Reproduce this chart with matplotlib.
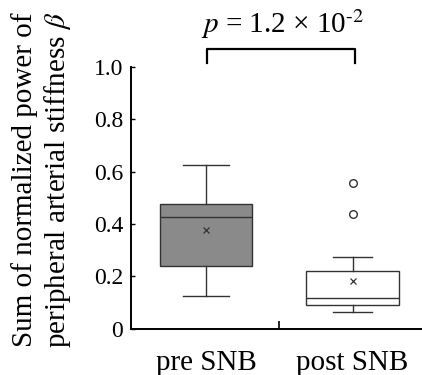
import matplotlib
matplotlib.use("Agg")
import matplotlib.pyplot as plt

# values
groups = ["pre SNB", "post SNB"]
whisker_low = [0.125, 0.063]
q1 = [0.241, 0.091]
median = [0.426, 0.116]
q3 = [0.476, 0.222]
whisker_high = [0.627, 0.274]
mean = [0.379, 0.182]
outliers = [[], [0.440, 0.557]]
p_label = r"$p$ = 1.2 × 10$^{\text{-2}}$"
y_ticks = [0, 0.2, 0.4, 0.6, 0.8, 1.0]
y_tick_labels = ["0", "0.2", "0.4", "0.6", "0.8", "1.0"]

plt.rcParams["font.family"] = ["Liberation Serif", "DejaVu Serif"]
plt.rcParams["mathtext.fontset"] = "stix"

fig = plt.figure(figsize=(4.22, 3.75), dpi=100)
ax = fig.add_axes([0.3116, 0.1235, 0.6884, 0.6973])

stats = []
for i, name in enumerate(groups):
    stats.append({
        "label": name,
        "whislo": whisker_low[i],
        "q1": q1[i],
        "med": median[i],
        "q3": q3[i],
        "whishi": whisker_high[i],
        "mean": mean[i],
        "fliers": outliers[i],
    })

line_col = "#333333"
bp = ax.bxp(
    stats,
    positions=[1, 2],
    widths=0.63,
    capwidths=[0.32, 0.27],
    showmeans=True,
    patch_artist=True,
    boxprops=dict(edgecolor=line_col, linewidth=1.0),
    medianprops=dict(color=line_col, linewidth=1.0),
    whiskerprops=dict(color=line_col, linewidth=1.0),
    capprops=dict(color=line_col, linewidth=1.0),
    meanprops=dict(marker="x", markeredgecolor=line_col, markersize=4.5,
                   markeredgewidth=0.9),
    flierprops=dict(marker="o", markerfacecolor="white",
                    markeredgecolor=line_col, markersize=5.5,
                    markeredgewidth=1.0),
)
bp["boxes"][0].set_facecolor("#8a8a8a")
bp["boxes"][1].set_facecolor("white")

ax.set_xlim(0.4915, 2.474)
ax.set_ylim(0, 1.0)

ax.spines["top"].set_visible(False)
ax.spines["right"].set_visible(False)
ax.spines["left"].set_linewidth(1.4)
ax.spines["bottom"].set_linewidth(1.4)

ax.set_yticks(y_ticks)
ax.set_yticklabels(y_tick_labels)
ax.tick_params(axis="y", direction="in", length=3, width=1.0,
               labelsize=17, pad=6)
ax.set_xticks([1, 2])
ax.set_xticklabels(groups)
ax.tick_params(axis="x", which="major", length=0, labelsize=21, pad=15)
ax.set_xticks([1.5], minor=True)
ax.tick_params(axis="x", which="minor", direction="in", length=6, width=1.2)

# significance bracket
ax.plot([1.01, 1.01, 2.02, 2.02], [1.017, 1.068, 1.068, 1.017],
        color="black", linewidth=1.6, clip_on=False)
ax.text(1.525, 1.131, p_label, ha="center", va="baseline",
        fontsize=21, clip_on=False)

fig.text(0.10, 0.52,
         "Sum of normalized power of\nperipheral arterial stiffness $\\beta$",
         rotation=90, ha="center", va="center", fontsize=21,
         multialignment="center")

fig.savefig("out.png", dpi=100)
